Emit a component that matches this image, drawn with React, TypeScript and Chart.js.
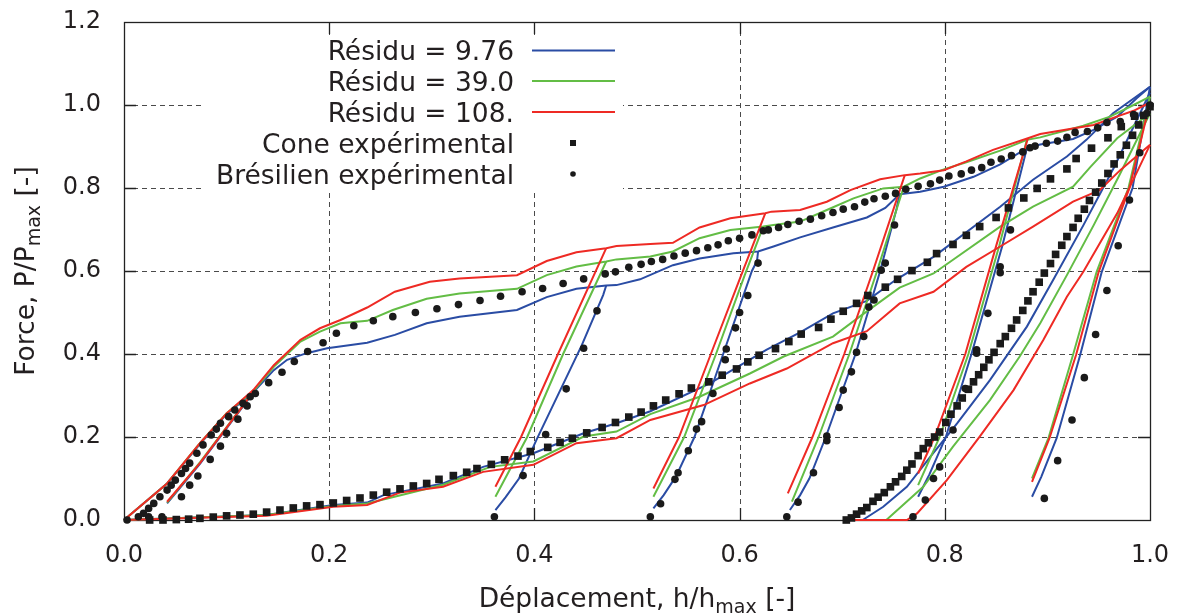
import React, { useEffect, useRef } from "react";
import { Chart, registerables } from "chart.js";

Chart.register(...registerables);

type P = [number, number];

// ---------- axes / labels ----------
const X_TICKS = [0, 0.2, 0.4, 0.6, 0.8, 1.0];
const Y_TICKS = [0, 0.2, 0.4, 0.6, 0.8, 1.0, 1.2];
const X_TITLE = ["Déplacement, h/h", "max", " [-]"];
const Y_TITLE = ["Force, P/P", "max", " [-]"];
const LEGEND_LABELS = [
  "Résidu = 9.76",
  "Résidu = 39.0",
  "Résidu = 108.",
  "Cone expérimental",
  "Brésilien expérimental",
];

const BLUE = "#2a4ca4";
const GREEN = "#63bd45";
const RED = "#ee2a24";
const INK = "#231f20";

// ---------- model: Brazilian test (loading envelope) ----------
const BLUE_LOAD: P[] = [
  [0, 0], [0.042, 0.088], [0.074, 0.183], [0.1, 0.255], [0.126, 0.308], [0.146, 0.361],
  [0.159, 0.386], [0.178, 0.402], [0.198, 0.414], [0.237, 0.427], [0.264, 0.446],
  [0.295, 0.474], [0.327, 0.49], [0.383, 0.506], [0.412, 0.537], [0.441, 0.557],
  [0.47, 0.565], [0.48, 0.566], [0.503, 0.58], [0.535, 0.614], [0.561, 0.63],
  [0.594, 0.643], [0.618, 0.647], [0.633, 0.659], [0.659, 0.681], [0.691, 0.705],
  [0.724, 0.729], [0.742, 0.752], [0.756, 0.785], [0.776, 0.791], [0.799, 0.803],
  [0.828, 0.827], [0.854, 0.857], [0.88, 0.896], [0.893, 0.905], [0.925, 0.918],
  [0.945, 0.94], [0.968, 0.972], [0.987, 1.016], [1.0, 1.044],
];
const GREEN_LOAD: P[] = [
  [0, 0], [0.042, 0.088], [0.074, 0.185], [0.1, 0.257], [0.126, 0.31], [0.146, 0.369],
  [0.172, 0.43], [0.191, 0.454], [0.211, 0.474], [0.237, 0.48], [0.262, 0.506],
  [0.295, 0.533], [0.327, 0.546], [0.383, 0.557], [0.412, 0.59], [0.441, 0.611],
  [0.47, 0.623], [0.48, 0.628], [0.513, 0.635], [0.535, 0.647], [0.561, 0.679],
  [0.591, 0.699], [0.623, 0.707], [0.633, 0.711], [0.659, 0.719], [0.685, 0.747],
  [0.711, 0.775], [0.74, 0.799], [0.76, 0.803], [0.776, 0.823], [0.799, 0.845],
  [0.821, 0.862], [0.854, 0.89], [0.88, 0.916], [0.893, 0.922], [0.935, 0.95],
  [0.961, 0.972], [0.984, 1.0], [1.0, 1.02],
];
const RED_LOAD: P[] = [
  [0, 0], [0.042, 0.088], [0.074, 0.185], [0.1, 0.257], [0.126, 0.313], [0.146, 0.373],
  [0.172, 0.434], [0.191, 0.462], [0.211, 0.482], [0.237, 0.512], [0.264, 0.55],
  [0.298, 0.574], [0.327, 0.582], [0.383, 0.59], [0.412, 0.624], [0.441, 0.645],
  [0.47, 0.655], [0.48, 0.66], [0.513, 0.665], [0.535, 0.668], [0.561, 0.705],
  [0.591, 0.727], [0.625, 0.739], [0.631, 0.743], [0.659, 0.747], [0.685, 0.767],
  [0.708, 0.795], [0.737, 0.821], [0.761, 0.831], [0.776, 0.835], [0.799, 0.843],
  [0.821, 0.864], [0.847, 0.892], [0.881, 0.92], [0.893, 0.93], [0.919, 0.941],
  [0.945, 0.952], [0.971, 0.975], [0.984, 0.986], [1.0, 1.006],
];

// ---------- model: Brazilian test (unloading branches) ----------
const BLUE_UNLOADS: P[][] = [
  [[0.126, 0.308], [0.12, 0.287], [0.074, 0.135], [0.042, 0.04]],
  [[0.47, 0.565], [0.467, 0.542], [0.446, 0.42], [0.402, 0.193], [0.385, 0.1], [0.372, 0.055], [0.362, 0.024]],
  [[0.618, 0.647], [0.617, 0.625], [0.612, 0.6], [0.584, 0.4], [0.556, 0.2], [0.538, 0.105], [0.526, 0.06], [0.516, 0.028]],
  [[0.756, 0.785], [0.753, 0.75], [0.737, 0.6], [0.713, 0.4], [0.684, 0.2], [0.668, 0.1], [0.659, 0.06], [0.649, 0.024]],
  [[0.88, 0.896], [0.856, 0.66], [0.826, 0.4], [0.801, 0.2], [0.785, 0.11], [0.774, 0.056]],
  [[1.0, 1.044], [0.983, 0.8], [0.953, 0.598], [0.932, 0.398], [0.909, 0.197], [0.894, 0.104], [0.885, 0.056]],
];
const GREEN_UNLOADS: P[][] = [
  [[0.126, 0.31], [0.12, 0.289], [0.074, 0.139], [0.042, 0.042]],
  [[0.47, 0.623], [0.428, 0.4], [0.393, 0.2], [0.362, 0.056]],
  [[0.623, 0.707], [0.605, 0.59], [0.577, 0.4], [0.546, 0.2], [0.516, 0.056]],
  [[0.76, 0.803], [0.734, 0.6], [0.707, 0.4], [0.677, 0.2], [0.651, 0.044]],
  [[0.88, 0.916], [0.853, 0.66], [0.823, 0.4], [0.795, 0.2], [0.774, 0.084]],
  [[1.0, 1.02], [0.979, 0.8], [0.948, 0.598], [0.925, 0.398], [0.901, 0.197], [0.885, 0.1]],
];
const RED_UNLOADS: P[][] = [
  [[0.126, 0.313], [0.12, 0.289], [0.074, 0.137], [0.042, 0.044]],
  [[0.47, 0.655], [0.423, 0.4], [0.387, 0.2], [0.362, 0.08]],
  [[0.625, 0.739], [0.6, 0.58], [0.572, 0.4], [0.541, 0.2], [0.516, 0.076]],
  [[0.761, 0.831], [0.73, 0.6], [0.702, 0.4], [0.671, 0.2], [0.647, 0.064]],
  [[0.881, 0.92], [0.85, 0.66], [0.82, 0.4], [0.79, 0.2], [0.774, 0.112]],
  [[1.0, 1.006], [0.98, 0.8], [0.95, 0.598], [0.928, 0.398], [0.902, 0.197], [0.885, 0.092]],
];

// ---------- model: cone test ----------
const BLUE_CONE_LOAD: P[] = [
  [0, 0], [0.139, 0.012], [0.204, 0.036], [0.237, 0.042], [0.253, 0.06], [0.311, 0.088],
  [0.35, 0.128], [0.399, 0.161], [0.448, 0.209], [0.48, 0.233], [0.513, 0.262],
  [0.571, 0.329], [0.626, 0.41], [0.659, 0.452], [0.691, 0.498], [0.724, 0.528],
  [0.753, 0.58], [0.789, 0.634], [0.854, 0.755], [0.886, 0.82], [0.919, 0.876],
  [0.938, 0.916], [0.964, 0.98], [1.0, 1.044],
];
const GREEN_CONE_LOAD: P[] = [
  [0, 0], [0.139, 0.012], [0.204, 0.034], [0.237, 0.04], [0.311, 0.085], [0.357, 0.128],
  [0.399, 0.141], [0.448, 0.201], [0.48, 0.213], [0.513, 0.255], [0.561, 0.297],
  [0.61, 0.353], [0.643, 0.394], [0.691, 0.442], [0.717, 0.49], [0.756, 0.56],
  [0.789, 0.594], [0.854, 0.707], [0.886, 0.755], [0.925, 0.803], [0.942, 0.851],
  [0.968, 0.92], [1.0, 0.98],
];
const RED_CONE_LOAD: P[] = [
  [0, 0], [0.139, 0.01], [0.204, 0.032], [0.237, 0.036], [0.269, 0.066], [0.311, 0.08],
  [0.35, 0.116], [0.399, 0.133], [0.441, 0.185], [0.48, 0.197], [0.513, 0.241],
  [0.565, 0.277], [0.61, 0.329], [0.646, 0.365], [0.691, 0.426], [0.724, 0.455],
  [0.756, 0.522], [0.789, 0.55], [0.821, 0.61], [0.854, 0.659], [0.886, 0.707],
  [0.925, 0.767], [0.951, 0.795], [0.971, 0.843], [1.0, 0.904],
];
const BLUE_CONE_UNLOAD: P[] = [
  [1.0, 1.03], [0.965, 0.85], [0.935, 0.71], [0.906, 0.58], [0.88, 0.466], [0.844, 0.337],
  [0.812, 0.233], [0.786, 0.153], [0.763, 0.08], [0.74, 0.032], [0.72, 0.0],
];
const GREEN_CONE_UNLOAD: P[] = [
  [1.0, 0.98], [0.97, 0.83], [0.945, 0.71], [0.919, 0.59], [0.893, 0.474], [0.873, 0.394],
  [0.844, 0.289], [0.808, 0.177], [0.779, 0.08], [0.743, 0.0],
];
const RED_CONE_UNLOAD: P[] = [
  [1.0, 0.904], [0.968, 0.739], [0.935, 0.598], [0.919, 0.538], [0.896, 0.434],
  [0.867, 0.313], [0.834, 0.201], [0.802, 0.096], [0.773, 0.016], [0.763, 0.0], [0.712, 0.0],
];

// ---------- experiments ----------
const CONE_EXP: P[] = [
  [0.025, 0.0], [0.038, 0.0], [0.051, 0.001], [0.063, 0.002], [0.074, 0.004], [0.087, 0.007],
  [0.1, 0.01], [0.113, 0.012], [0.126, 0.014], [0.139, 0.019], [0.152, 0.024], [0.165, 0.029],
  [0.178, 0.034], [0.191, 0.037], [0.204, 0.041], [0.217, 0.047], [0.23, 0.053], [0.243, 0.06],
  [0.256, 0.067], [0.269, 0.075], [0.282, 0.082], [0.295, 0.088], [0.307, 0.098], [0.321, 0.107],
  [0.334, 0.115], [0.344, 0.124], [0.358, 0.134], [0.371, 0.145], [0.384, 0.154], [0.396, 0.165],
  [0.413, 0.175], [0.425, 0.187], [0.437, 0.197], [0.451, 0.21], [0.466, 0.223], [0.479, 0.235],
  [0.492, 0.248], [0.504, 0.26], [0.516, 0.275], [0.528, 0.289], [0.541, 0.304], [0.553, 0.318],
  [0.57, 0.333], [0.583, 0.349], [0.597, 0.364], [0.608, 0.381], [0.619, 0.397], [0.635, 0.413],
  [0.648, 0.43], [0.66, 0.448], [0.677, 0.464], [0.689, 0.484], [0.701, 0.503], [0.714, 0.522],
  [0.725, 0.541], [0.742, 0.561], [0.754, 0.58], [0.768, 0.601], [0.783, 0.621], [0.792, 0.642],
  [0.808, 0.664], [0.821, 0.686], [0.834, 0.707], [0.85, 0.729], [0.862, 0.752], [0.877, 0.776],
  [0.89, 0.799], [0.903, 0.822], [0.919, 0.846], [0.928, 0.871], [0.943, 0.896], [0.959, 0.921],
  [0.972, 0.948], [0.985, 0.973], [1.0, 0.996],
  [0.994, 0.975], [0.989, 0.952], [0.983, 0.927], [0.977, 0.903], [0.971, 0.88], [0.965, 0.858],
  [0.959, 0.835], [0.953, 0.812], [0.947, 0.79], [0.941, 0.77], [0.936, 0.749], [0.93, 0.727],
  [0.925, 0.705], [0.919, 0.683], [0.914, 0.662], [0.908, 0.64], [0.903, 0.618], [0.897, 0.595],
  [0.892, 0.573], [0.886, 0.55], [0.881, 0.528], [0.876, 0.505], [0.87, 0.482], [0.865, 0.462],
  [0.859, 0.442], [0.854, 0.425], [0.848, 0.404], [0.843, 0.386], [0.838, 0.368], [0.833, 0.35],
  [0.828, 0.333], [0.823, 0.315], [0.817, 0.294], [0.812, 0.275], [0.806, 0.255], [0.801, 0.235],
  [0.795, 0.212], [0.79, 0.2], [0.784, 0.186], [0.779, 0.172], [0.774, 0.155], [0.768, 0.135],
  [0.763, 0.12], [0.758, 0.105], [0.752, 0.092], [0.747, 0.08], [0.741, 0.066], [0.735, 0.055],
  [0.73, 0.045], [0.724, 0.03], [0.719, 0.022], [0.714, 0.014], [0.709, 0.005], [0.704, 0.0],
];

const BRAZ_EXP_LOAD: P[] = [
  [0.003, 0.0], [0.014, 0.008], [0.019, 0.016], [0.024, 0.028], [0.029, 0.04], [0.035, 0.056],
  [0.042, 0.072], [0.046, 0.084], [0.05, 0.096], [0.056, 0.112], [0.06, 0.124], [0.064, 0.137],
  [0.071, 0.161], [0.077, 0.181], [0.085, 0.205], [0.09, 0.219], [0.094, 0.233], [0.102, 0.249],
  [0.108, 0.265], [0.116, 0.281], [0.123, 0.297], [0.128, 0.305], [0.141, 0.331], [0.154, 0.356],
  [0.166, 0.382], [0.179, 0.406], [0.194, 0.427], [0.207, 0.45], [0.224, 0.468], [0.243, 0.48],
  [0.262, 0.49], [0.284, 0.5], [0.305, 0.509], [0.326, 0.519], [0.347, 0.529], [0.367, 0.539],
  [0.388, 0.55], [0.408, 0.558], [0.428, 0.57], [0.448, 0.581], [0.469, 0.593], [0.479, 0.598],
  [0.492, 0.609], [0.504, 0.616], [0.514, 0.623], [0.525, 0.628], [0.536, 0.636], [0.547, 0.643],
  [0.558, 0.649], [0.569, 0.656], [0.579, 0.663], [0.589, 0.673], [0.6, 0.679], [0.612, 0.687],
  [0.623, 0.697], [0.628, 0.699], [0.638, 0.705], [0.647, 0.712], [0.658, 0.72], [0.669, 0.725],
  [0.68, 0.733], [0.691, 0.741], [0.701, 0.749], [0.712, 0.755], [0.722, 0.766], [0.731, 0.774],
  [0.742, 0.78], [0.752, 0.787], [0.762, 0.797], [0.774, 0.804], [0.786, 0.81], [0.795, 0.819],
  [0.804, 0.829], [0.816, 0.834], [0.826, 0.843], [0.836, 0.849], [0.845, 0.862], [0.855, 0.87],
  [0.865, 0.878], [0.876, 0.887], [0.883, 0.897], [0.888, 0.901], [0.899, 0.908], [0.91, 0.913],
  [0.919, 0.922], [0.927, 0.934], [0.939, 0.936], [0.949, 0.945], [0.958, 0.958], [0.971, 0.96],
  [0.984, 0.977], [0.997, 0.98], [1.0, 1.0],
];
const BRAZ_EXP_UNLOAD: P[] = [
  [0.024, 0.008], [0.037, 0.008], [0.056, 0.056], [0.064, 0.084], [0.072, 0.106], [0.084, 0.146],
  [0.094, 0.178], [0.1, 0.209], [0.111, 0.243], [0.12, 0.275],
  [0.461, 0.504], [0.448, 0.414], [0.431, 0.316], [0.411, 0.206], [0.389, 0.107], [0.361, 0.008],
  [0.618, 0.619], [0.608, 0.541], [0.6, 0.5], [0.596, 0.463], [0.587, 0.412], [0.586, 0.386],
  [0.574, 0.305], [0.563, 0.237], [0.558, 0.219], [0.55, 0.167], [0.54, 0.114], [0.537, 0.098],
  [0.523, 0.039], [0.513, 0.008],
  [0.751, 0.711], [0.742, 0.619], [0.738, 0.602], [0.731, 0.53], [0.726, 0.513], [0.721, 0.442],
  [0.714, 0.404], [0.709, 0.357], [0.701, 0.313], [0.697, 0.271], [0.685, 0.202], [0.685, 0.191],
  [0.672, 0.114], [0.657, 0.043], [0.646, 0.008],
  [0.864, 0.699], [0.854, 0.61], [0.854, 0.596], [0.842, 0.498], [0.831, 0.41], [0.831, 0.402],
  [0.82, 0.317], [0.808, 0.217], [0.795, 0.128], [0.789, 0.1], [0.781, 0.048], [0.769, 0.008],
  [0.99, 0.885], [0.98, 0.771], [0.969, 0.661], [0.958, 0.553], [0.947, 0.447], [0.936, 0.343],
  [0.924, 0.241], [0.91, 0.143], [0.897, 0.052],
];

// ---------- helpers ----------
const toXY = (a: P[]) => a.map(([x, y]) => ({ x, y }));

function lineDs(data: P[], color: string, order: number) {
  return {
    data: toXY(data),
    showLine: true,
    borderColor: color,
    backgroundColor: color,
    borderWidth: 2,
    pointRadius: 0,
    pointHoverRadius: 0,
    tension: 0,
    fill: false,
    clip: false as const,
    order,
  };
}

function markerDs(data: P[], style: string, radius: number, order: number) {
  return {
    data: toXY(data),
    showLine: false,
    pointStyle: style,
    pointRadius: radius,
    pointHoverRadius: radius,
    pointBorderWidth: 0,
    borderWidth: 0,
    backgroundColor: "#1a1a1a",
    borderColor: "#1a1a1a",
    clip: false as const,
    order,
  };
}

function modelSets(color: string, order: number, load: P[], unloads: P[][], coneLoad: P[], coneUnload: P[]) {
  return [
    lineDs(load, color, order),
    ...unloads.map((u) => lineDs(u, color, order)),
    lineDs(coneLoad, color, order),
    lineDs(coneUnload, color, order),
  ];
}

const FONT = '"DejaVu Sans", "Liberation Sans", sans-serif';

const framePlugin = {
  id: "frame",
  beforeDatasetsDraw(chart: any) {
    const { ctx, chartArea: a, scales } = chart;
    const xs = scales.x;
    const ys = scales.y;
    ctx.save();
    // dashed grid
    ctx.strokeStyle = "#4a4a4a";
    ctx.lineWidth = 1;
    ctx.setLineDash([5, 4]);
    for (const v of X_TICKS) {
      if (v <= 0 || v >= 1) continue;
      const px = Math.round(xs.getPixelForValue(v)) + 0.5;
      ctx.beginPath();
      ctx.moveTo(px, a.top);
      ctx.lineTo(px, a.bottom);
      ctx.stroke();
    }
    for (const v of Y_TICKS) {
      if (v <= 0 || v >= 1.2) continue;
      const py = Math.round(ys.getPixelForValue(v)) + 0.5;
      ctx.beginPath();
      ctx.moveTo(a.left, py);
      ctx.lineTo(a.right, py);
      ctx.stroke();
    }
    ctx.setLineDash([]);
    // border
    ctx.strokeStyle = "#222";
    ctx.lineWidth = 1.3;
    ctx.strokeRect(a.left + 0.5, a.top + 0.5, a.right - a.left, a.bottom - a.top);
    // inward ticks
    const tl = 12;
    ctx.beginPath();
    for (const v of X_TICKS) {
      if (v <= 0 || v >= 1) continue;
      const px = Math.round(xs.getPixelForValue(v)) + 0.5;
      ctx.moveTo(px, a.bottom);
      ctx.lineTo(px, a.bottom - tl);
      ctx.moveTo(px, a.top);
      ctx.lineTo(px, a.top + tl);
    }
    for (const v of Y_TICKS) {
      if (v <= 0 || v >= 1.2) continue;
      const py = Math.round(ys.getPixelForValue(v)) + 0.5;
      ctx.moveTo(a.left, py);
      ctx.lineTo(a.left + tl, py);
      ctx.moveTo(a.right, py);
      ctx.lineTo(a.right - tl, py);
    }
    ctx.stroke();
    ctx.restore();
  },
  afterDraw(chart: any) {
    const { ctx, chartArea: a } = chart;
    ctx.save();
    // ---- legend (opaque key) ----
    ctx.fillStyle = "#fff";
    ctx.fillRect(203, 35, 420, 158);
    const rows = [60, 90.5, 121.5, 152.5, 183.5];
    const colors = [BLUE, GREEN, RED];
    ctx.font = `26.5px ${FONT}`;
    ctx.fillStyle = INK;
    ctx.textAlign = "right";
    ctx.textBaseline = "alphabetic";
    LEGEND_LABELS.forEach((t, i) => ctx.fillText(t, 514, rows[i]));
    colors.forEach((c, i) => {
      const y = rows[i] - 9.5;
      ctx.strokeStyle = c;
      ctx.lineWidth = 2;
      ctx.beginPath();
      ctx.moveTo(532, y);
      ctx.lineTo(615, y);
      ctx.stroke();
    });
    ctx.fillStyle = "#1a1a1a";
    ctx.fillRect(570, rows[3] - 9.5 - 3, 6, 6);
    ctx.beginPath();
    ctx.arc(573, rows[4] - 9.5, 2.8, 0, Math.PI * 2);
    ctx.fill();

    // ---- axis titles with subscripts ----
    const big = `26.5px ${FONT}`;
    const small = `19px ${FONT}`;
    const drawTitle = (parts: string[], cx: number, base: number) => {
      ctx.font = big;
      const w0 = ctx.measureText(parts[0]).width;
      const w2 = ctx.measureText(parts[2]).width;
      ctx.font = small;
      const w1 = ctx.measureText(parts[1]).width;
      let x = cx - (w0 + w1 + w2) / 2;
      ctx.textAlign = "left";
      ctx.textBaseline = "alphabetic";
      ctx.fillStyle = INK;
      ctx.font = big;
      ctx.fillText(parts[0], x, base);
      x += w0;
      ctx.font = small;
      ctx.fillText(parts[1], x, base + 6);
      x += w1;
      ctx.font = big;
      ctx.fillText(parts[2], x, base);
    };
    drawTitle(X_TITLE, (a.left + a.right) / 2, 607);
    ctx.save();
    ctx.translate(34, (a.top + a.bottom) / 2);
    ctx.rotate(-Math.PI / 2);
    drawTitle(Y_TITLE, 0, 0);
    ctx.restore();
    ctx.restore();
  },
};

const noPad = (s: any) => {
  s.paddingTop = 0;
  s.paddingBottom = 0;
  s.paddingLeft = 0;
  s.paddingRight = 0;
};

export default function App() {
  const ref = useRef<HTMLCanvasElement | null>(null);

  useEffect(() => {
    if (!ref.current) return;
    const datasets: any[] = [
      markerDs(BRAZ_EXP_LOAD, "circle", 3.8, 0),
      markerDs(BRAZ_EXP_UNLOAD, "circle", 3.8, 0),
      markerDs(CONE_EXP, "rect", 5.4, 1),
      ...modelSets(RED, 2, RED_LOAD, RED_UNLOADS, RED_CONE_LOAD, RED_CONE_UNLOAD),
      ...modelSets(GREEN, 3, GREEN_LOAD, GREEN_UNLOADS, GREEN_CONE_LOAD, GREEN_CONE_UNLOAD),
      ...modelSets(BLUE, 4, BLUE_LOAD, BLUE_UNLOADS, BLUE_CONE_LOAD, BLUE_CONE_UNLOAD),
    ];
    const tickFont = { family: FONT, size: 24 };
    const chart = new Chart(ref.current, {
      type: "scatter",
      data: { datasets },
      plugins: [framePlugin],
      options: {
        animation: false,
        responsive: true,
        maintainAspectRatio: false,
        events: [],
        layout: { autoPadding: false, padding: { top: 22, right: 31, left: 0, bottom: 0 } },
        plugins: { legend: { display: false }, tooltip: { enabled: false } },
        scales: {
          x: {
            type: "linear",
            min: 0,
            max: 1,
            afterFit: (s: any) => {
              s.height = 96;
              noPad(s);
            },
            grid: { display: false, drawTicks: false },
            border: { display: false },
            ticks: {
              stepSize: 0.2,
              padding: 21,
              maxRotation: 0,
              autoSkip: false,
              color: INK,
              font: tickFont,
              callback: (v: any) => Number(v).toFixed(1),
            },
          },
          y: {
            type: "linear",
            min: 0,
            max: 1.2,
            afterFit: (s: any) => {
              s.width = 124;
              noPad(s);
            },
            grid: { display: false, drawTicks: false },
            border: { display: false },
            ticks: {
              stepSize: 0.2,
              padding: 23,
              autoSkip: false,
              color: INK,
              font: tickFont,
              callback: (v: any) => Number(v).toFixed(1),
            },
          },
        },
      } as any,
    });
    return () => chart.destroy();
  }, []);

  return (
    <div style={{ position: "fixed", left: 0, top: 0, width: 1181, height: 616, background: "#fff" }}>
      <canvas ref={ref} />
    </div>
  );
}
